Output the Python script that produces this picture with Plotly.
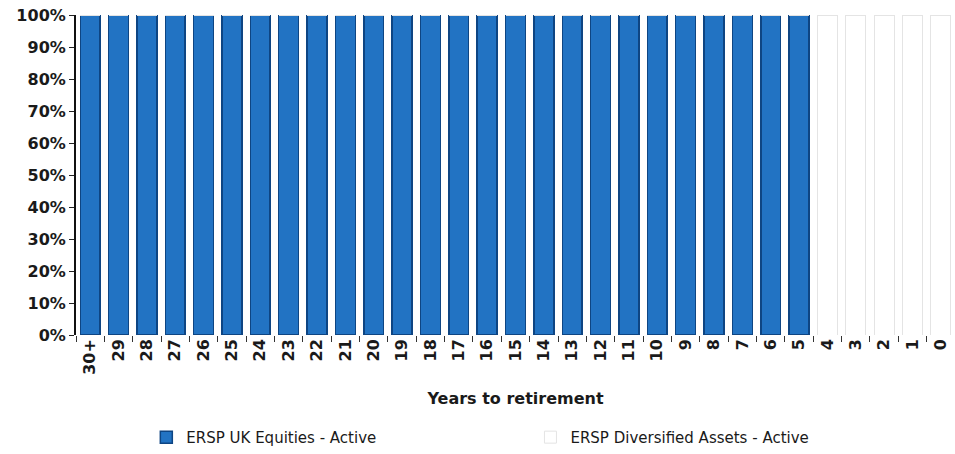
import plotly.graph_objects as go

# Years to retirement (categories, left to right)
years = ["30+", "29", "28", "27", "26", "25", "24", "23", "22", "21", "20",
         "19", "18", "17", "16", "15", "14", "13", "12", "11", "10",
         "9", "8", "7", "6", "5", "4", "3", "2", "1", "0"]

# Allocation (%) per fund
uk_equities = [100, 100, 100, 100, 100, 100, 100, 100, 100, 100, 100,
               100, 100, 100, 100, 100, 100, 100, 100, 100, 100,
               100, 100, 100, 100, 100, 0, 0, 0, 0, 0]
diversified = [0, 0, 0, 0, 0, 0, 0, 0, 0, 0, 0,
               0, 0, 0, 0, 0, 0, 0, 0, 0, 0,
               0, 0, 0, 0, 0, 100, 100, 100, 100, 100]

y_ticks = [0, 10, 20, 30, 40, 50, 60, 70, 80, 90, 100]
y_tick_text = [f"{v}%" for v in y_ticks]

font_family = "DejaVu Sans, Verdana, sans-serif"
text_color = "#1a1a1a"

fig = go.Figure()
fig.add_trace(go.Bar(
    x=years, y=uk_equities, name="ERSP UK Equities - Active",
    marker=dict(color="#2273c3", line=dict(color="#0e4583", width=1.5)),
    legend="legend",
))
fig.add_trace(go.Bar(
    x=years, y=diversified, name="ERSP Diversified Assets - Active",
    marker=dict(color="#ffffff", line=dict(color="#e4e4e4", width=1)),
    legend="legend2",
))

legend_style = dict(
    orientation="h",
    y=-0.32, yanchor="middle",
    font=dict(size=15, color=text_color),
    itemwidth=30,
    bgcolor="rgba(0,0,0,0)",
)

fig.update_layout(
    barmode="stack",
    bargap=0.3,
    width=955, height=454,
    margin=dict(l=76, r=0, t=15, b=119),
    paper_bgcolor="white",
    plot_bgcolor="white",
    font=dict(family=font_family, color=text_color, size=14),
    showlegend=True,
    legend=dict(x=0.08, xanchor="left", **legend_style),
    legend2=dict(x=0.517, xanchor="left", **legend_style),
)

fig.update_xaxes(
    type="category",
    tickangle=-90,
    tickfont=dict(size=16, color=text_color, family=font_family, weight="bold"),
    ticks="outside", ticklen=6, tickcolor="#333333",
    tickson="boundaries",
    showline=False,
    showgrid=False,
    title=dict(text="Years to retirement",
               font=dict(size=16, weight="bold"), standoff=18),
)

fig.update_yaxes(
    range=[0, 100],
    tickvals=y_ticks, ticktext=y_tick_text,
    tickfont=dict(size=16, color=text_color, weight="bold"),
    ticks="outside", ticklen=5, tickcolor="#222222",
    showline=True, linecolor="#111111", linewidth=2,
    showgrid=False, zeroline=False,
)

fig.write_html("out.html")
